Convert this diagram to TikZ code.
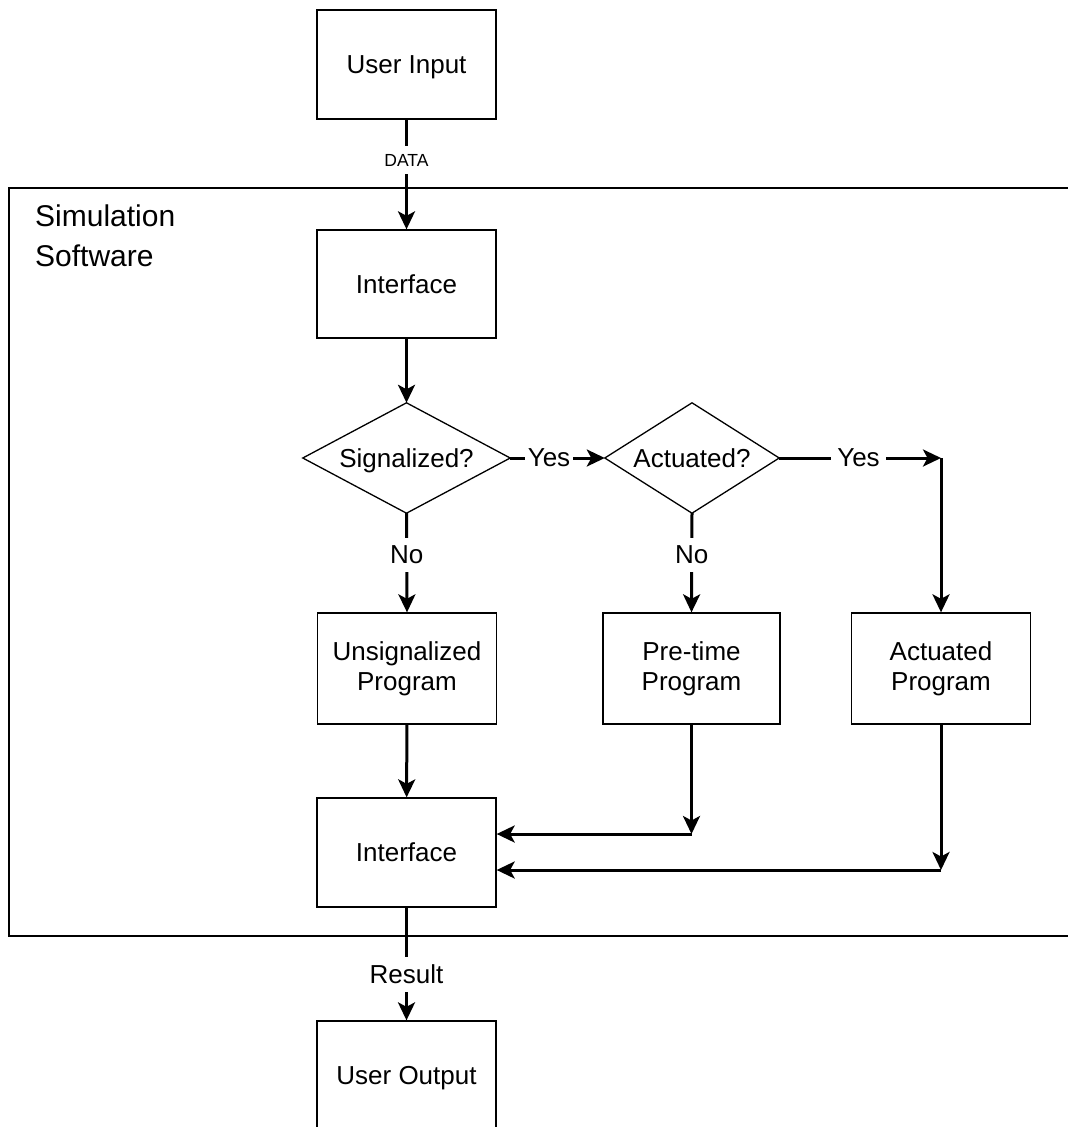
\documentclass[tikz,border=0pt]{standalone}
\usepackage{fontspec}
\setmainfont{Liberation Sans}
\usetikzlibrary{arrows.meta,calc}
\begin{document}
\begin{tikzpicture}[x=1pt,y=-1pt,
  txt/.style={font=\fontsize{26}{30}\selectfont},
  box/.style={txt, draw, line width=1.3pt, minimum width=179pt, minimum height=109pt, inner sep=0pt, align=center},
  one/.style={text depth=0pt},
  dia/.style={txt, minimum height=110pt, inner sep=0pt, text depth=0pt},
  dline/.style={line width=1.3pt, line join=miter},
  flow/.style={line width=3pt, -{Stealth[length=18pt,width=17pt,inset=4.5pt]}},
  lbl/.style={txt, fill=white, inner xsep=5pt, inner ysep=6pt}
]
\clip (0,0) rectangle (1068,1127);
\fill[white] (0,0) rectangle (1068,1127);

% outer frame (right side lies beyond the picture)
\draw[line width=2pt] (9,188) rectangle (1100,936);
\node[anchor=north west, inner sep=0pt, align=left, font=\fontsize{30}{40}\selectfont] (title) at (35,205) {Simulation\\Software};

% nodes
\node[box, one] (ui) at (406.5,64.5) {User Input};
\node[box, one, minimum height=108pt] (if1) at (406.5,284) {Interface};
\node[dia, minimum width=207pt] (sig) at (406.5,458) {Signalized?};
\node[dia, minimum width=174pt] (act) at (692,458) {Actuated?};
\draw[dline] (sig.west) -- (sig.north) -- (sig.east) -- (sig.south) -- cycle;
\draw[dline] (act.west) -- (act.north) -- (act.east) -- (act.south) -- cycle;
\node[box, minimum height=111pt] (unsig) at (407,668.5) {Unsignalized\\Program};
\node[box, minimum width=177pt, minimum height=111pt] (pre) at (691.5,668.5) {Pre-time\\Program};
\node[box, minimum height=111pt] (actp) at (941,668.5) {Actuated\\Program};
\node[box, one] (if2) at (406.5,852.5) {Interface};
\node[box, one] (uo) at (406.5,1075.5) {User Output};

\coordinate (yc) at (941,458);
\coordinate (c1) at (691.5,834);
\coordinate (c2) at (941,870);

% connectors
\draw[flow] (ui) -- node[lbl, pos=0.37, font=\fontsize{17.5}{20}\selectfont, inner ysep=8pt, inner xsep=2pt] (data) {DATA} (if1);
\draw[flow] (if1) -- (sig);
\draw[flow] (sig.east) -- node[lbl, pos=0.41, inner xsep=3pt] (yes1) {Yes} (act.west);
\draw[flow] (act.east) -- node[lbl, pos=0.49, inner xsep=6pt] (yes2) {Yes} (yc);
\draw[flow] (yc) -- (actp.north);
\draw[flow] (sig.south) -- node[lbl, pos=0.42, inner ysep=8pt] (no1) {No} (unsig.north);
\draw[flow] (act.south) -- node[lbl, pos=0.42, inner ysep=8pt] (no2) {No} (pre.north);
\draw[flow] (unsig) -- (if2);
\draw[flow] (pre.south) -- (c1);
\draw[flow] (c1) -- (c1 -| if2.east);
\draw[flow] (actp.south) -- (c2);
\draw[flow] (c2) -- (c2 -| if2.east);
\draw[flow] (if2) -- node[lbl, pos=0.59, inner ysep=8pt] (res) {Result} (uo);
\end{tikzpicture}
\end{document}
